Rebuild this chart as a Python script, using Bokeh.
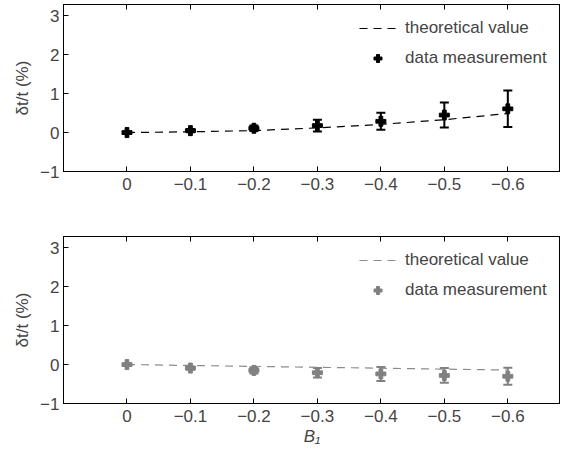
from bokeh.plotting import figure
from bokeh.models import (Range1d, ColumnDataSource, Whisker, TeeHead, Legend,
                          LegendItem, LinearAxis, FixedTicker)
from bokeh.layouts import column
from bokeh.embed import file_html
from bokeh.resources import INLINE

# ---- data ----
b1 = [0.0, -0.1, -0.2, -0.3, -0.4, -0.5, -0.6]
x_tick_labels = ["0", "\u22120.1", "\u22120.2", "\u22120.3", "\u22120.4", "\u22120.5", "\u22120.6"]
y_ticks = [-1, 0, 1, 2, 3]
y_tick_labels = ["\u22121", "0", "1", "2", "3"]

top_theory = [0.0, 0.02, 0.05, 0.12, 0.21, 0.33, 0.49]
top_meas = [0.0, 0.05, 0.11, 0.18, 0.29, 0.45, 0.61]
top_err = [0.03, 0.04, 0.07, 0.15, 0.22, 0.32, 0.47]

bot_theory = [0.0, -0.023, -0.047, -0.07, -0.093, -0.117, -0.14]
bot_meas = [0.0, -0.09, -0.15, -0.21, -0.24, -0.28, -0.30]
bot_err = [0.03, 0.04, 0.08, 0.12, 0.18, 0.19, 0.22]

FONT = "Liberation Sans"
FS = "17px"


def make_panel(theory, meas, err, color, line_color, height, top_border, bottom_border, xlabel=None):
    p = figure(width=560, height=height, output_backend="svg", toolbar_location=None,
               x_range=Range1d(0.1, -0.683), y_range=Range1d(-1, 3.29),
               min_border_left=63, min_border_right=0,
               min_border_top=top_border, min_border_bottom=bottom_border,
               x_axis_type=None, y_axis_type=None)
    p.grid.visible = False
    p.outline_line_color = "black"
    p.outline_line_width = 1
    p.background_fill_color = "white"
    p.border_fill_color = "white"

    overrides_x = {v: s for v, s in zip(b1, x_tick_labels)}
    overrides_y = {v: s for v, s in zip(y_ticks, y_tick_labels)}

    xa = LinearAxis(ticker=FixedTicker(ticks=b1), major_label_overrides=overrides_x)
    xa.major_tick_in = 5
    xa.major_tick_out = 0
    xa.minor_tick_line_color = None
    xa.major_label_text_font = FONT
    xa.major_label_text_font_size = FS
    xa.major_label_standoff = 6
    xa.axis_line_color = "black"
    if xlabel:
        xa.axis_label = xlabel
        xa.axis_label_text_font = FONT
        xa.axis_label_text_font_size = FS
        xa.axis_label_text_font_style = "italic"
        xa.axis_label_standoff = 2
    p.add_layout(xa, "below")

    ta = LinearAxis(ticker=FixedTicker(ticks=b1))
    ta.major_tick_in = 5
    ta.major_tick_out = 0
    ta.minor_tick_line_color = None
    ta.major_label_text_font_size = "1px"
    ta.major_label_text_color = None
    ta.major_label_standoff = 0
    ta.axis_line_color = "black"
    p.add_layout(ta, "above")

    ya = LinearAxis(ticker=FixedTicker(ticks=y_ticks), major_label_overrides=overrides_y)
    ya.major_tick_in = 5
    ya.major_tick_out = 0
    ya.minor_tick_line_color = None
    ya.major_label_text_font = FONT
    ya.major_label_text_font_size = FS
    ya.major_label_standoff = 4
    ya.axis_line_color = "black"
    ya.axis_label = "\u03b4t/t (%)"
    ya.axis_label_text_font = FONT
    ya.axis_label_text_font_size = FS
    ya.axis_label_text_font_style = "normal"
    ya.axis_label_standoff = 5
    p.add_layout(ya, "left")

    src = ColumnDataSource(dict(x=b1, y=meas,
                                lo=[m - e for m, e in zip(meas, err)],
                                hi=[m + e for m, e in zip(meas, err)],
                                th=theory))

    line = p.line("x", "th", source=src, line_color=line_color, line_width=1.2,
                  line_dash="8 6")
    w = Whisker(base="x", lower="lo", upper="hi", source=src, dimension="height",
                line_color=color, line_width=2,
                upper_head=TeeHead(size=9, line_color=color, line_width=2),
                lower_head=TeeHead(size=9, line_color=color, line_width=2))
    p.add_layout(w)
    pts = p.scatter("x", "y", source=src, marker="plus", size=10,
                    fill_color=color, line_color=color, line_width=1)

    legend = Legend(items=[LegendItem(label="theoretical value", renderers=[line]),
                           LegendItem(label="data measurement", renderers=[pts])],
                    location=(296, 103))
    legend.label_text_font = FONT
    legend.label_text_font_size = FS
    legend.glyph_width = 37
    legend.glyph_height = 20
    legend.label_height = 20
    legend.label_standoff = 9
    legend.spacing = 10
    legend.padding = 0
    legend.margin = 0
    legend.border_line_alpha = 0
    legend.background_fill_alpha = 0
    p.add_layout(legend)
    return p


p1 = make_panel(top_theory, top_meas, top_err, "black", "black", 220, 4, 49)
p2 = make_panel(bot_theory, bot_meas, bot_err, "#808080", "#8c8c8c", 232, 16, 49,
                xlabel="B\u2081")

layout = column(p1, p2, spacing=0)
open("out.html", "w").write(file_html(layout, INLINE))
